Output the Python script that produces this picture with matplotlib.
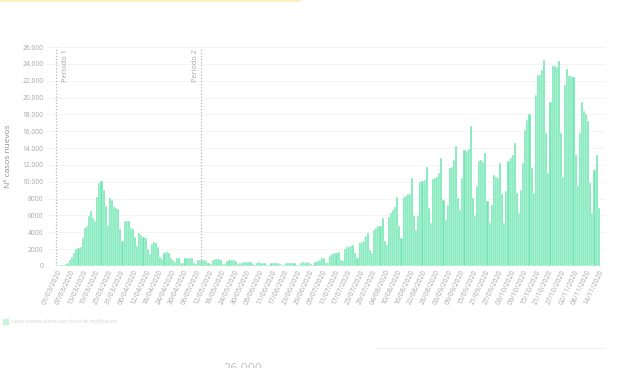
import numpy as np
import pandas as pd
import matplotlib
matplotlib.use('Agg')
import matplotlib.pyplot as plt
from matplotlib.lines import Line2D

# casos nuevos diarios, desde el 01/03/2020
casos_nuevos = [
    40, 70, 100, 170, 250, 400, 700, 1100, 1500, 2000,
    2100, 2300, 3300, 4500, 4700, 5900, 6500, 5700, 5300, 8200,
    9800, 10100, 9000, 7100, 4900, 8100, 7800, 7000, 6900, 6800,
    4400, 3000, 5400, 5400, 5300, 4500, 4400, 3400, 2400, 3900,
    3700, 3500, 3300, 2000, 1400, 2600, 2800, 2700, 2200, 1100,
    800, 1600, 1700, 1500, 1000, 700, 500, 950, 950, 400,
    300, 950, 1000, 1000, 950, 400, 250, 700, 750, 750,
    700, 650, 300, 250, 750, 850, 800, 800, 700, 250,
    200, 600, 700, 750, 700, 650, 250, 300, 300, 450,
    500, 500, 450, 200, 150, 400, 450, 400, 400, 350,
    150, 150, 300, 350, 300, 300, 250, 150, 100, 300,
    300, 350, 300, 300, 150, 150, 400, 450, 400, 450,
    350, 200, 150, 500, 650, 700, 900, 1000, 400, 350,
    1200, 1400, 1500, 1600, 1700, 700, 600, 2000, 2300, 2300,
    2400, 2500, 1500, 1000, 2700, 2900, 3000, 3600, 3900, 1900,
    1500, 4300, 4500, 4700, 4800, 5700, 3000, 2500, 5800, 6300,
    6700, 7000, 8200, 4700, 3300, 8200, 8300, 8500, 8600, 10400,
    5900, 4300, 5900, 10000, 10100, 10200, 11800, 6900, 5100, 10300,
    10400, 10600, 11000, 12800, 7800, 5500, 7200, 11600, 11800, 12600,
    14200, 8100, 6600, 10500, 13800, 13700, 13900, 16600, 8100, 5900,
    9500, 12500, 12600, 12400, 13400, 7700, 5100, 7200, 10800, 10600,
    10400, 12200, 8600, 5100, 8900, 12500, 12800, 13200, 14600, 8700,
    6300, 9000, 12200, 16200, 17300, 18000, 11600, 8700, 20300, 22700,
    22700, 23300, 24500, 15800, 11000, 19500, 23700, 23700, 23600, 24300,
    15800, 10600, 21500, 23400, 22600, 22500, 22400, 13200, 9500, 15800,
    19500, 18400, 18000, 17200, 9800, 6300, 11400, 13200, 6900,
]

fechas = pd.date_range('2020-03-01', periods=len(casos_nuevos), freq='D')
etiquetas_fecha = [f.strftime('%d/%m/%Y') for f in fechas]

periodos = ['Periodo 1', 'Periodo 2']
inicio_periodos = [-0.5, 68.5]

y_ticks = [0, 2000, 4000, 6000, 8000, 10000, 12000, 14000, 16000,
           18000, 20000, 22000, 24000, 26000]


def formato_miles(v):
    # separador de miles solo a partir de 10.000
    v = int(v)
    if v >= 10000:
        return '{:,}'.format(v).replace(',', '.')
    return str(v)


verde = '#6fe6b1'
gris = '#a6a6a6'

plt.rcParams['font.family'] = ['Open Sans', 'DejaVu Sans']

fig = plt.figure(figsize=(6.2, 3.68), dpi=100)
ax = fig.add_axes([47 / 620, 1 - 266 / 368, 558 / 620, 219 / 368])

x = np.arange(len(casos_nuevos))
ax.bar(x, casos_nuevos, width=1.0, color=verde, edgecolor='white', linewidth=0.3)

ax.set_ylim(0, 26000)
ax.set_xlim(-5, 261)
ax.set_yticks(y_ticks)
ax.set_yticklabels([formato_miles(v) for v in y_ticks])
ax.grid(axis='y', color='#f2f2f2', linewidth=0.6)
ax.set_axisbelow(True)

ticks_x = x[::6]
ax.set_xticks(ticks_x)
ax.set_xticklabels([etiquetas_fecha[i] for i in ticks_x], rotation=65,
                   ha='right', rotation_mode='anchor')
ax.tick_params(axis='x', labelsize=5, colors=gris, length=0, pad=2)
ax.tick_params(axis='y', labelsize=4.8, colors=gris, length=0, pad=2.5)

for s in ax.spines.values():
    s.set_visible(False)

ax.set_ylabel('Nº casos nuevos', color='#8c8c8c', fontsize=6)
ax.yaxis.set_label_coords(-35 / 558, 0.5)

# lineas verticales de cada periodo
for nombre, pos in zip(periodos, inicio_periodos):
    ax.axvline(pos, color='#b5b5b5', linestyle=(0, (1, 1.5)), linewidth=0.9)
    if nombre == 'Periodo 1':
        ax.text(pos + 2.5, 25700, nombre, rotation=90, ha='left', va='top',
                fontsize=5.3, color=gris)
    else:
        ax.text(pos - 1.2, 25700, nombre, rotation=90, ha='right', va='top',
                fontsize=5.3, color=gris)

# leyenda debajo (muy tenue)
fig.patches.append(plt.Rectangle((3 / 620, 1 - 324 / 368), 5 / 620, 5 / 368,
                                 transform=fig.transFigure, color='#c9f3df'))
fig.text(11 / 620, 1 - 321 / 368, 'casos nuevos diarios por fecha de notificación',
         fontsize=3.6, color='#d4d4d4', va='center')

# restos de la captura
fig.add_artist(Line2D([0, 300 / 620], [0.997, 0.997], color='#fbefc4',
                      linewidth=1.5, transform=fig.transFigure))
fig.add_artist(Line2D([375 / 620, 605 / 620], [1 - 348 / 368, 1 - 348 / 368],
                      color='#f2f2f2', linewidth=0.8, transform=fig.transFigure))
fig.text(243 / 620, 1 - 369 / 368, '26.000', fontsize=9, color='#c4c4c4',
         ha='center', va='center')

fig.savefig('out.png', dpi=100, facecolor='white')
